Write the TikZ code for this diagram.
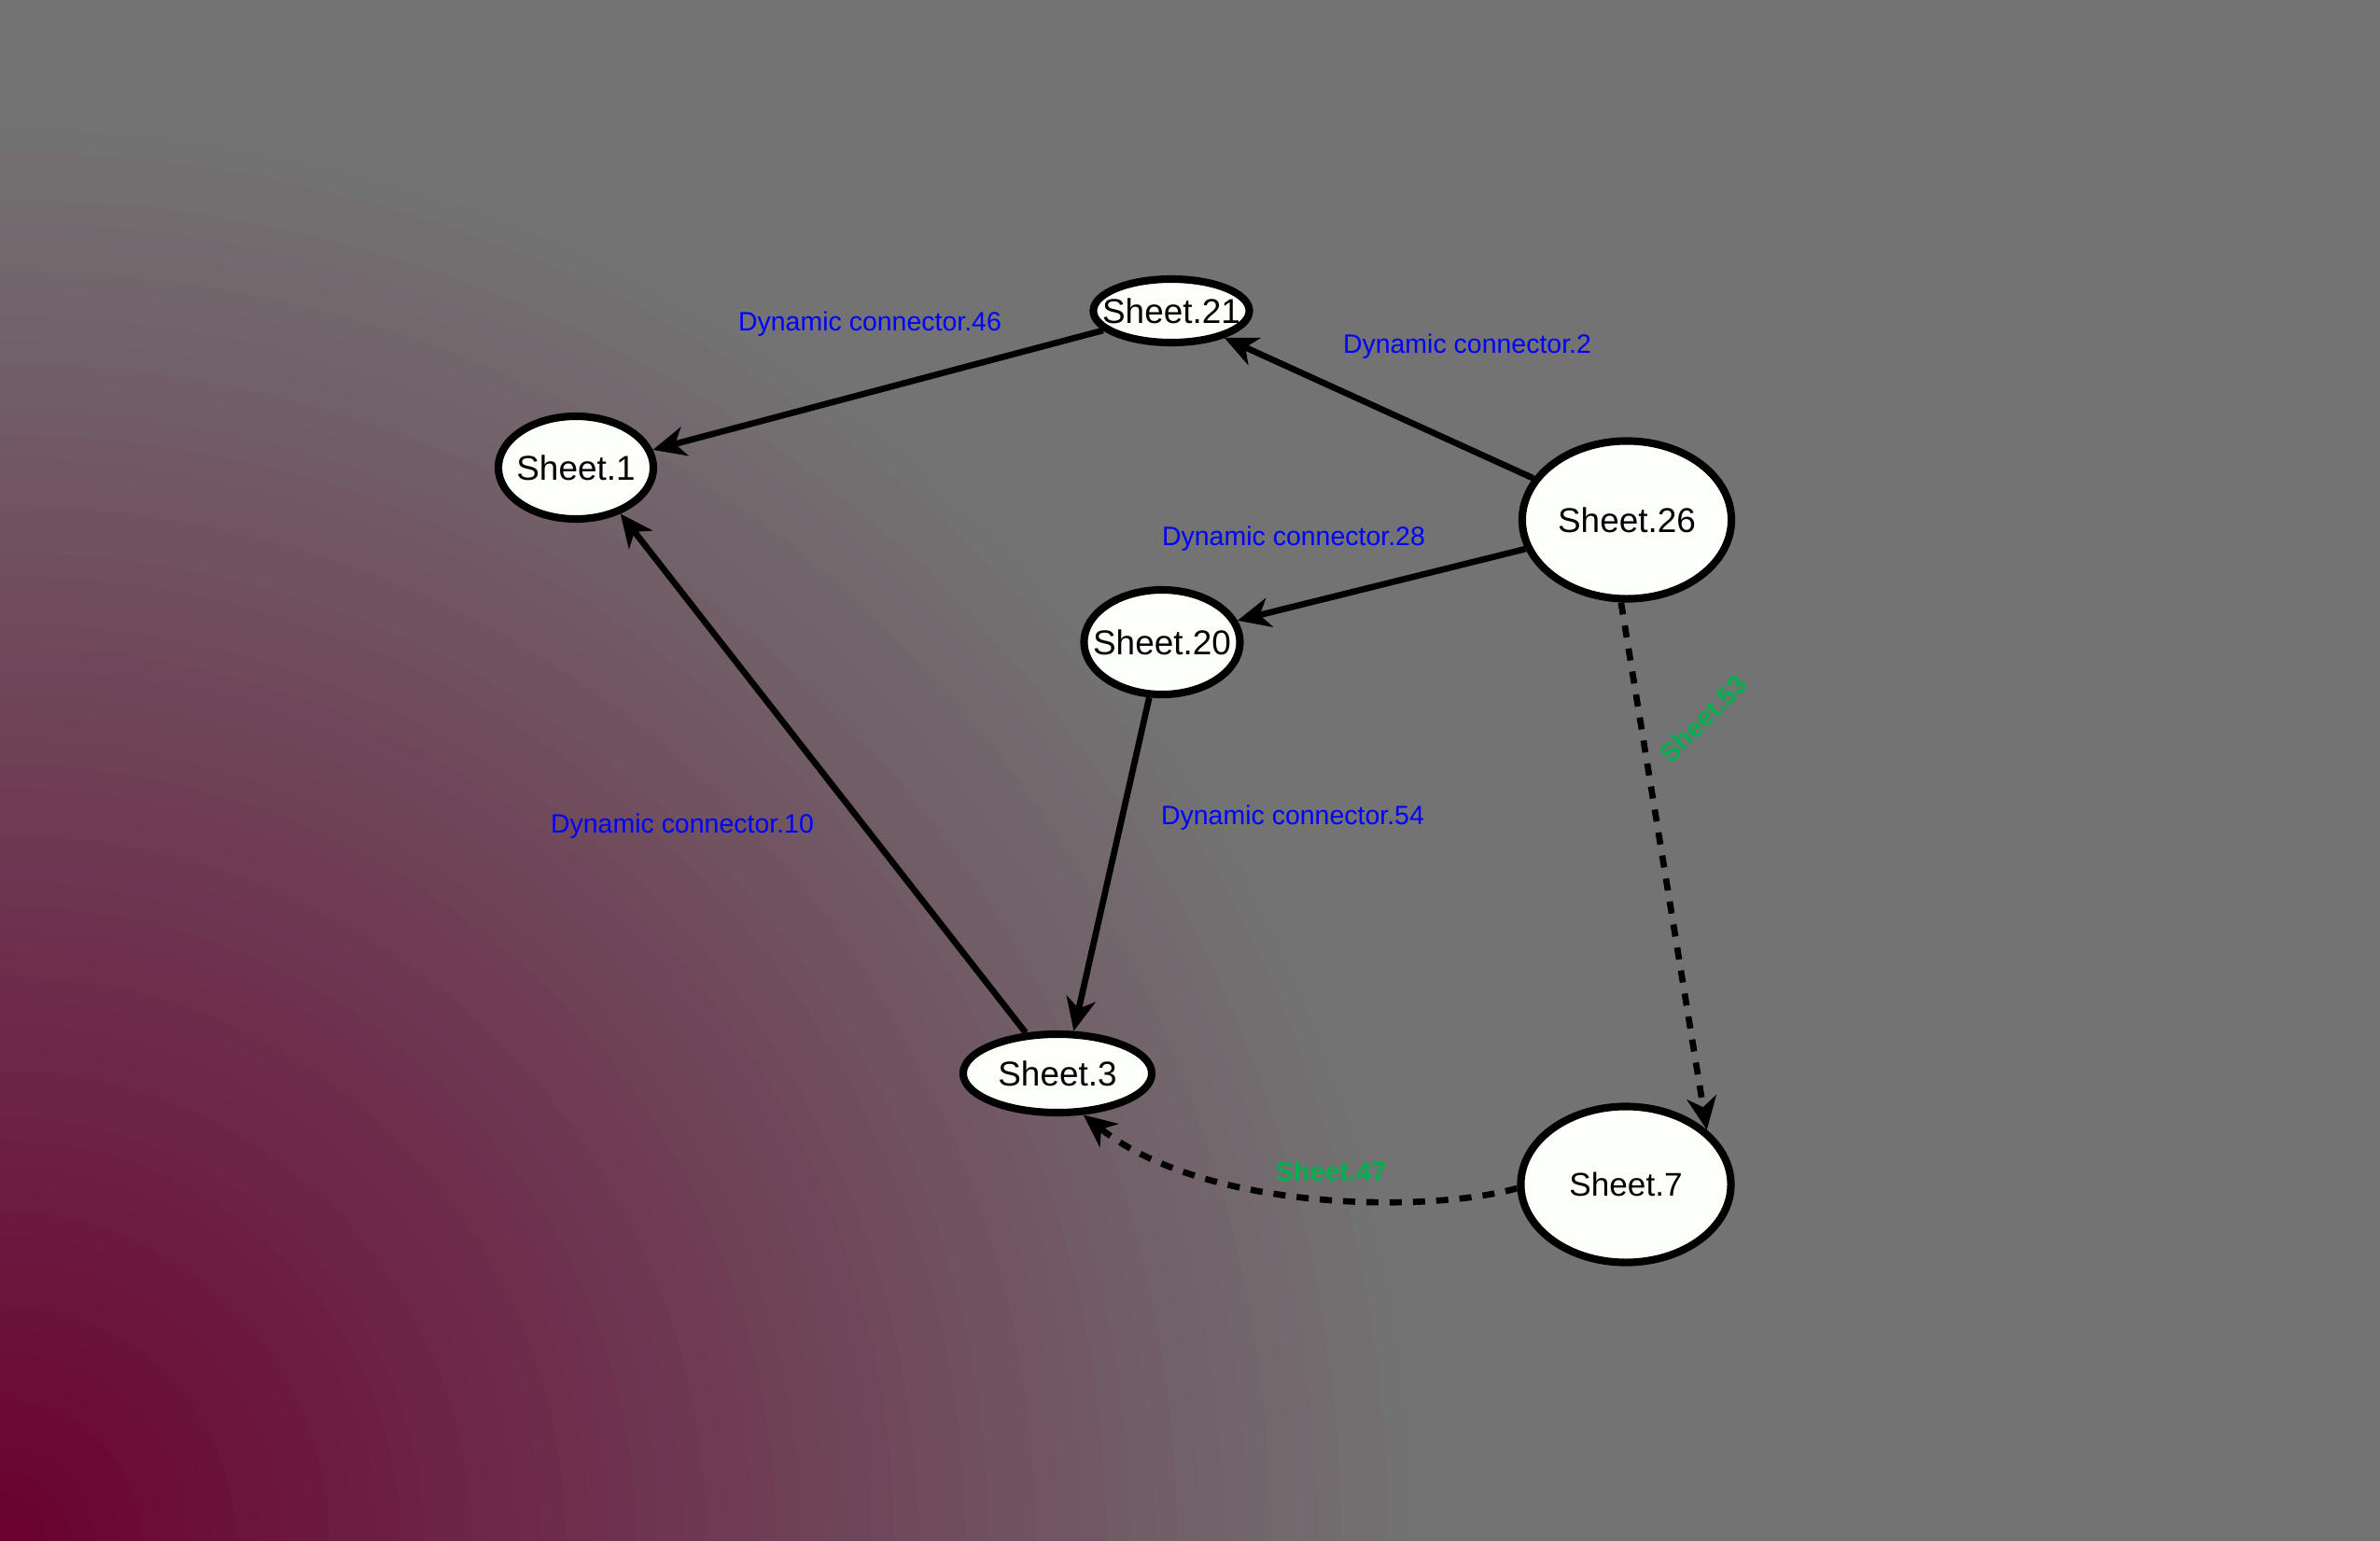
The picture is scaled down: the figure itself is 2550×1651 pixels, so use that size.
\documentclass[tikz,border=0pt]{standalone}
\usepackage{fontspec}
\setmainfont{Liberation Sans}
\usetikzlibrary{arrows.meta,shapes.geometric}

\definecolor{bggray}{RGB}{115,115,115}
\definecolor{wine}{RGB}{106,0,48}
\definecolor{shapefill}{RGB}{252,255,250}
\definecolor{conlabel}{RGB}{0,0,255}
\definecolor{sheetlabel}{RGB}{0,176,80}

\begin{document}
\begin{tikzpicture}[x=0.01cm,y=-0.01cm,
  sheet/.style={ellipse, draw=black, line width=2.3pt, fill=shapefill,
    inner sep=0pt, font=\fontsize{10.5}{12}\selectfont},
  con/.style={line width=1.9pt, -{Stealth[length=10pt,width=9pt,inset=3pt]}},
  dcon/.style={con, dash pattern=on 3.7pt off 3.4pt},
  conlbl/.style={text=conlabel, inner sep=0pt, font=\fontsize{8.1}{10}\selectfont},
  grnlbl/.style={text=sheetlabel, inner sep=0pt, font=\bfseries\fontsize{8.2}{10}\selectfont}
]
% background: radial blend from the lower left corner
\useasboundingbox (0,0) rectangle (2550,1651);
\begin{scope}
  \clip (0,0) rectangle (2550,1651);
  \fill[bggray] (0,0) rectangle (2550,1651);
  \foreach \i in {60,59,...,1}{
    \pgfmathtruncatemacro\p{round(100*(1-(\i-0.5)/60))}
    \fill[wine!\p!bggray] (0,1651) circle[radius=\i*0.252cm];
  }
\end{scope}

% shapes
\node[sheet, minimum width=1.67cm, minimum height=0.68cm] (s21) at (1255,333) {\makebox[0pt]{Sheet.21}};
\node[sheet, minimum width=1.66cm, minimum height=1.10cm] (s1) at (617,501) {\makebox[0pt]{Sheet.1}};
\node[sheet, minimum width=2.24cm, minimum height=1.69cm] (s26) at (1743,557) {\makebox[0pt]{Sheet.26}};
\node[sheet, minimum width=1.67cm, minimum height=1.12cm] (s20) at (1245,688) {\makebox[0pt]{Sheet.20}};
\node[sheet, minimum width=2.02cm, minimum height=0.84cm] (s3) at (1133,1150) {\makebox[0pt]{Sheet.3}};
\node[sheet, minimum width=2.25cm, minimum height=1.67cm] (s7) at (1742,1269) {\makebox[0pt]{\fontsize{10}{12}\selectfont Sheet.7}};

% connectors
\draw[con] (s21.196) -- (s1.13);
\draw[con] (s26.156) -- (s21.333);
\draw[con] (s26.196) -- (s20.16);
\draw[con] (s3.128) -- (s1.314);
\draw[con] (s20.257) -- (s3.69);
\draw[dcon] (s26.266) -- (s7.34);
\draw[dcon] (s7.182) .. controls (1530,1300) and (1290,1298) .. (s3.302);

% connector labels
\node[conlbl] (l46) at (932,347) {Dynamic connector.46};
\node[conlbl] (l2) at (1572,371) {Dynamic connector.2};
\node[conlbl] (l28) at (1386,577) {Dynamic connector.28};
\node[conlbl] (l10) at (731,885) {Dynamic connector.10};
\node[conlbl] (l54) at (1385,876) {Dynamic connector.54};
\node[grnlbl, rotate=45] (l53) at (1825,770) {Sheet.53};
\node[grnlbl] (l47) at (1426,1255) {Sheet.47};
\end{tikzpicture}
\end{document}
